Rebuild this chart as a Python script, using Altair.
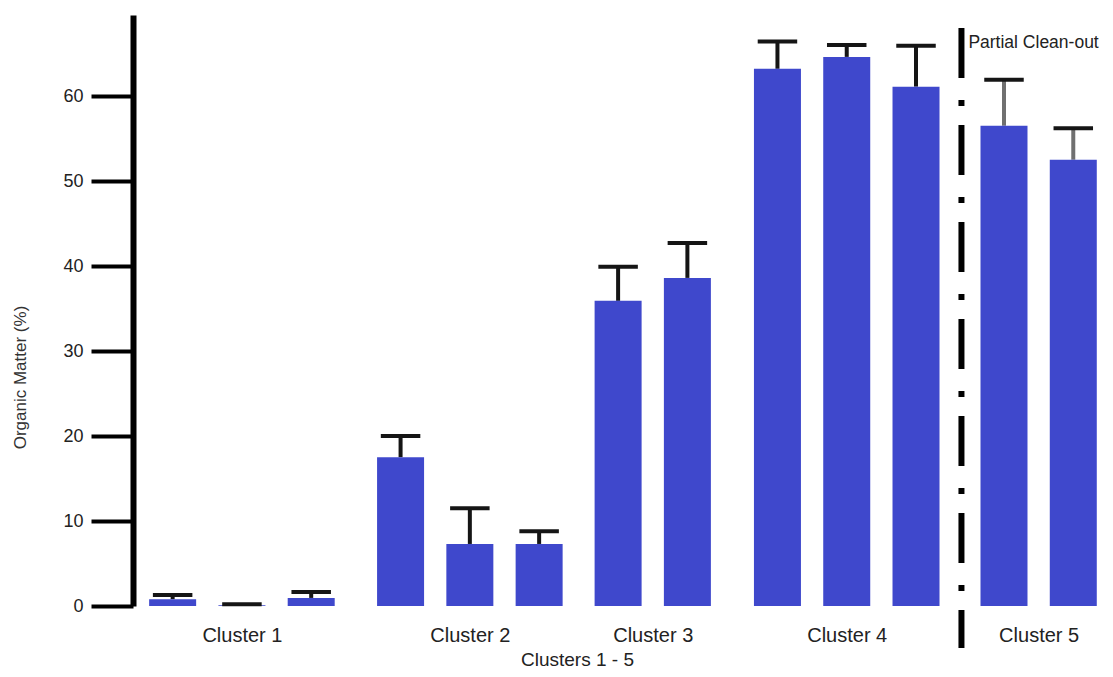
import altair as alt
import pandas as pd

# ---- data ----
clusters = ["Cluster 1", "Cluster 1", "Cluster 1",
            "Cluster 2", "Cluster 2", "Cluster 2",
            "Cluster 3", "Cluster 3",
            "Cluster 4", "Cluster 4", "Cluster 4",
            "Cluster 5", "Cluster 5"]
means = [0.8, 0.1, 0.95, 17.5, 7.3, 7.3, 35.9, 38.6, 63.2, 64.6, 61.1, 56.5, 52.5]
errors = [0.5, 0.1, 0.7, 2.5, 4.2, 1.5, 4.0, 4.1, 3.2, 1.4, 4.8, 5.4, 3.7]
cluster_names = ["Cluster 1", "Cluster 2", "Cluster 3", "Cluster 4", "Cluster 5"]
y_ticks = [0, 10, 20, 30, 40, 50, 60]
annotation = "Partial Clean-out"

# ---- layout (slot positions with extra gaps between clusters) ----
group_offset = {"Cluster 1": 0.0, "Cluster 2": 0.29, "Cluster 3": 0.43,
                "Cluster 4": 0.73, "Cluster 5": 1.0}
slots = [i + group_offset[c] for i, c in enumerate(clusters)]

df = pd.DataFrame({"cluster": clusters, "mean": means, "err": errors, "slot": slots})
df["upper"] = df["mean"] + df["err"]

centers = df.groupby("cluster")["slot"].mean().reindex(cluster_names).tolist()
expr = ""
for name, c in zip(cluster_names, centers):
    expr += f"abs(datum.value - {c:.4f}) < 0.01 ? '{name}' : "
expr += "''"

W, H = 972, 591
PX_PER_SLOT = 70.0
PX_PER_UNIT = 8.5
xscale = alt.Scale(domain=[-0.5, -0.5 + W / PX_PER_SLOT], nice=False, zero=False)
yscale = alt.Scale(domain=[0, H / PX_PER_UNIT], nice=False)

xaxis = alt.Axis(values=centers, labelExpr=expr, domain=False, ticks=False, grid=False,
                 labelFontSize=20, labelColor="#222", labelPadding=19, labelFont="Liberation Sans",
                 title="Clusters 1 - 5", titleFontSize=19, titleFontWeight="normal",
                 titleColor="#222", titleX=444, titleY=53, titleBaseline="middle",
                 titleFont="Liberation Sans")
yaxis = alt.Axis(values=y_ticks, grid=False, domainWidth=6, domainColor="black",
                 tickSize=42, tickWidth=4, tickColor="black", labelPadding=8,
                 labelFontSize=18, labelColor="#222", labelFont="Liberation Sans",
                 title="Organic Matter (%)", titleFontSize=17, titleFontWeight="normal",
                 titleColor="#333", titleX=-113, titleY=362, titleAngle=-90,
                 titleAlign="center", titleBaseline="middle", titleFont="Liberation Sans")

base = alt.Chart(df)

bars = base.mark_bar(size=47, color="#3F48CC").encode(
    x=alt.X("slot:Q", scale=xscale, axis=xaxis),
    y=alt.Y("mean:Q", scale=yscale, axis=yaxis),
)

stems = base.mark_rule(strokeWidth=4).encode(
    x=alt.X("slot:Q", scale=xscale, axis=xaxis),
    y=alt.Y("mean:Q", scale=yscale, axis=yaxis),
    y2="upper:Q",
    color=alt.condition(alt.datum.cluster == "Cluster 5", alt.value("#707070"), alt.value("#151515")),
)

caps = base.transform_calculate(
    lo="datum.slot - 0.285", hi="datum.slot + 0.285"
).mark_rule(strokeWidth=4, color="#151515").encode(
    x=alt.X("lo:Q", scale=xscale, axis=xaxis),
    x2="hi:Q",
    y=alt.Y("upper:Q", scale=yscale, axis=yaxis),
)

divider = alt.Chart(pd.DataFrame({"pos": [11.386]})).mark_rule(
    strokeWidth=6, color="black", strokeDash=[50, 22, 6, 19], strokeCap="butt"
).encode(
    x=alt.X("pos:Q", scale=xscale, axis=xaxis),
    y=alt.value(13),
    y2=alt.value(633),
)

label = alt.Chart(pd.DataFrame({"t": [annotation], "px": [11.486], "py": [66.2]})).mark_text(
    align="left", baseline="middle", fontSize=17.5, color="#222", font="Liberation Sans"
).encode(
    x=alt.X("px:Q", scale=xscale, axis=xaxis),
    y=alt.Y("py:Q", scale=yscale, axis=yaxis),
    text="t:N",
)

chart = alt.layer(stems, bars, caps, divider, label).properties(
    width=W, height=H,
    autosize=alt.AutoSizeParams(type="none"),
    padding={"left": 125, "top": 7, "right": 0, "bottom": 63},
).configure(font="Liberation Sans").configure_view(stroke=None)

chart.save("out.html", embed_options={"renderer": "svg", "actions": False})
